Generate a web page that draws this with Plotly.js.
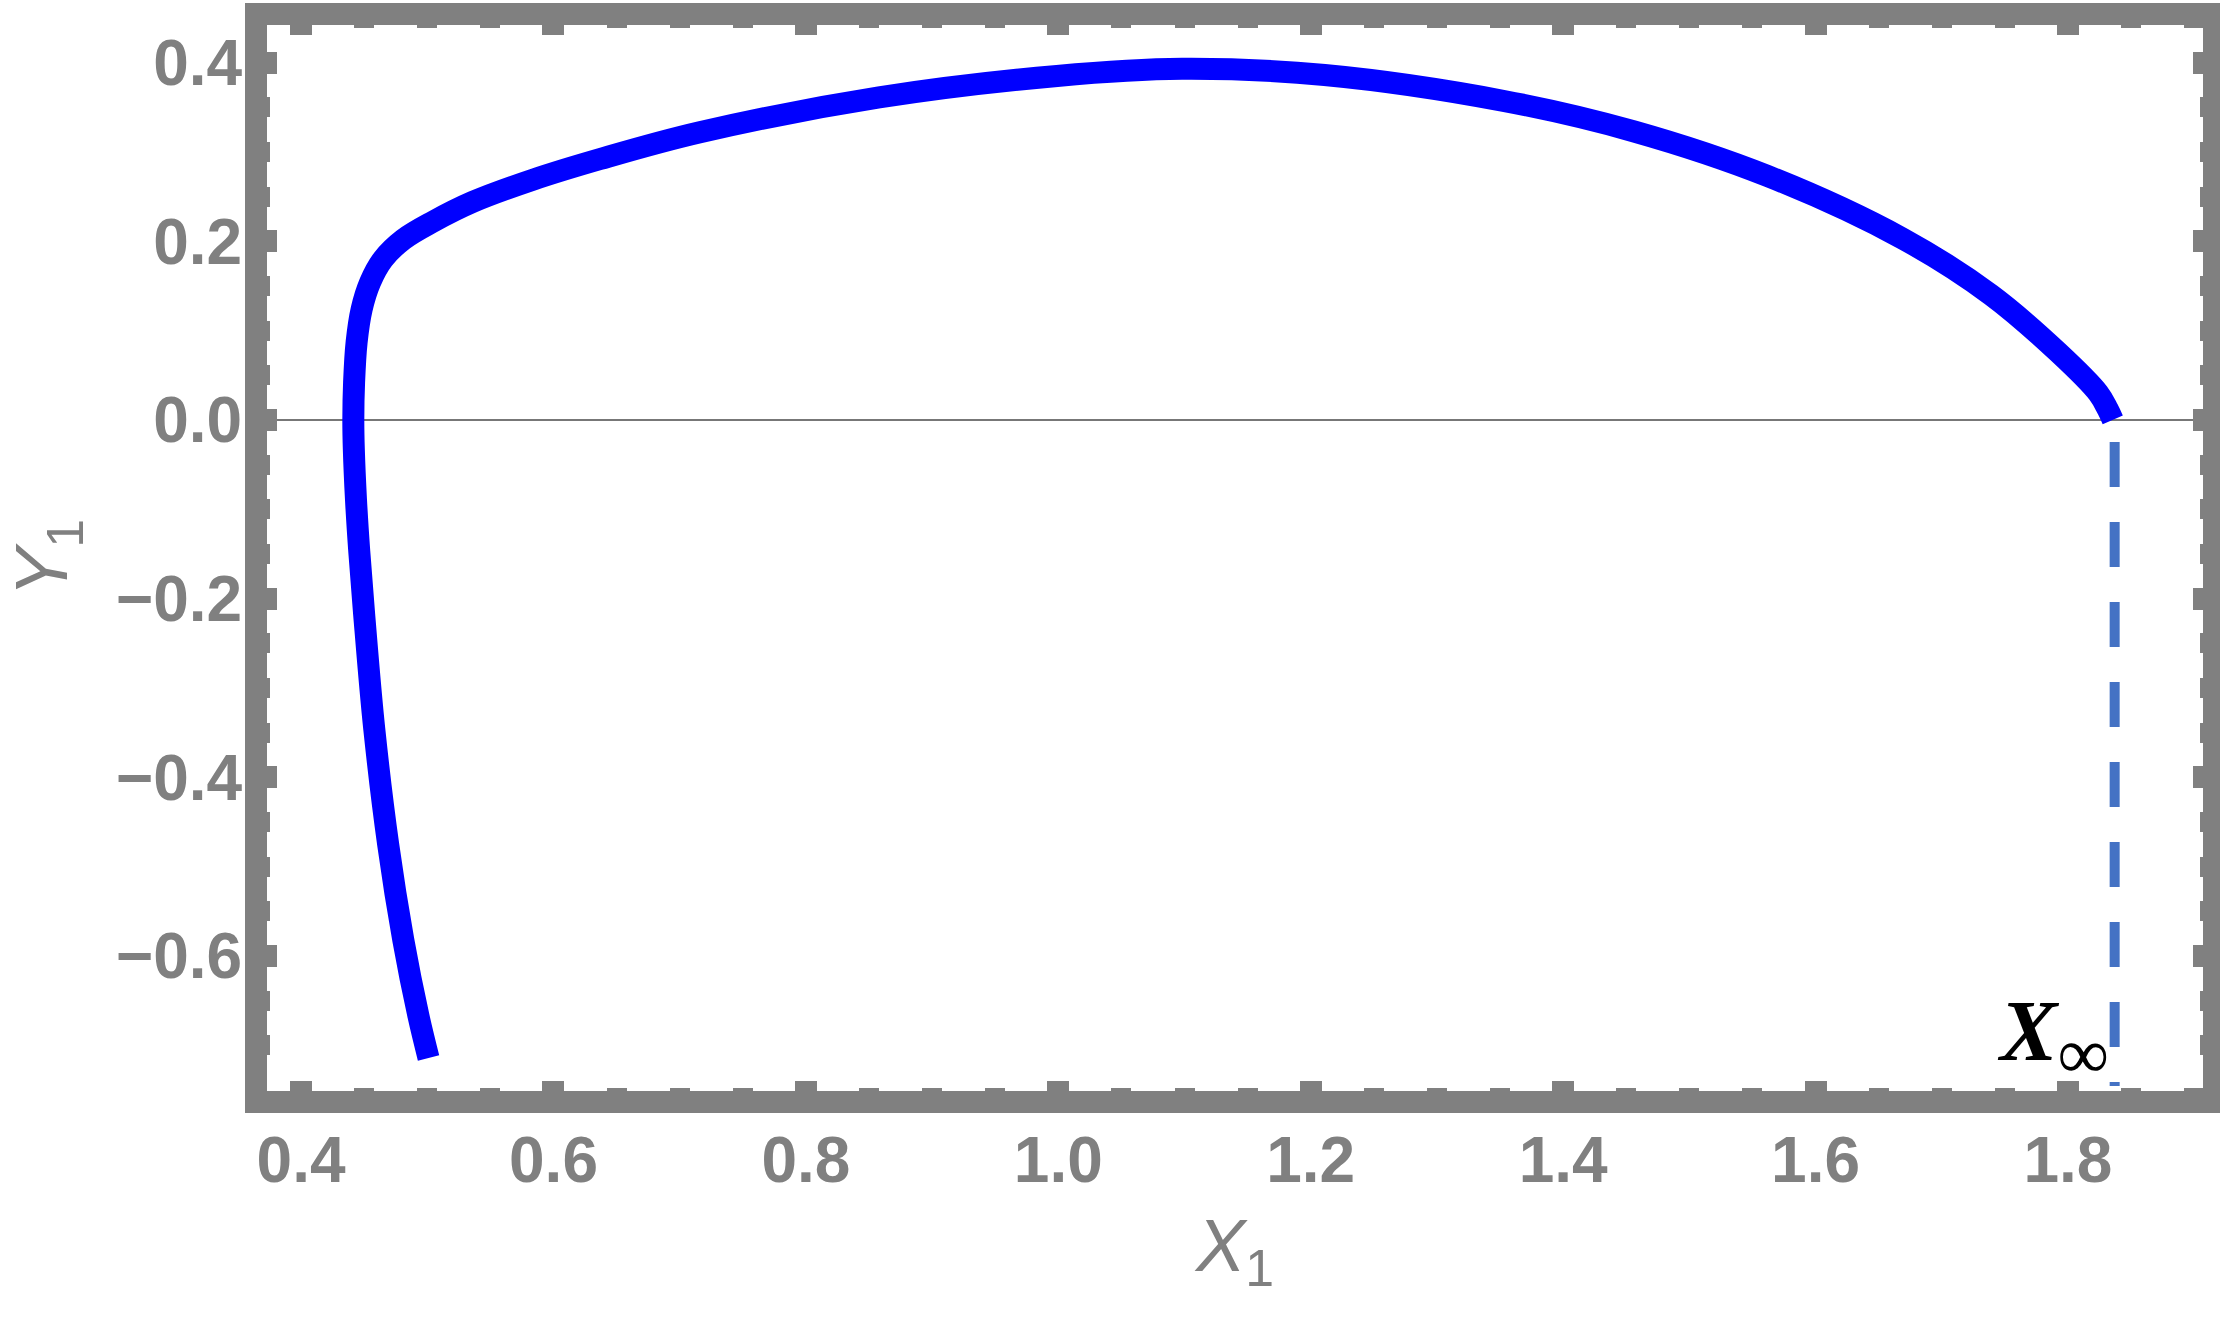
<!DOCTYPE html>
<html>
<head>
<meta charset="utf-8">
<script src="https://cdn.plot.ly/plotly-3.0.1.min.js"></script>
<style>
  html, body { margin: 0; padding: 0; background: #fff; }
  #plot { width: 2220px; height: 1328px; }
</style>
</head>
<body>
<div id="plot"></div>
<script>
// curve, from the lower end up and round to X_inf
var x1_vals = [0.501, 0.493, 0.481, 0.469, 0.458, 0.450, 0.446, 0.4435, 0.4418, 0.4414,
  0.442, 0.444, 0.448, 0.4547, 0.465, 0.481, 0.5046, 0.536, 0.584, 0.637,
  0.716, 0.858, 0.999, 1.098, 1.211, 1.353, 1.456, 1.562, 1.669, 1.739,
  1.792, 1.824, 1.8315, 1.8355]
var y1_vals = [-0.714, -0.667, -0.582, -0.475, -0.346, -0.218, -0.145, -0.089, -0.033, 0,
  0.042, 0.087, 0.124, 0.154, 0.180, 0.202, 0.222, 0.244, 0.269, 0.292,
  0.322, 0.361, 0.385, 0.393, 0.386, 0.357, 0.323, 0.273, 0.203, 0.140,
  0.076, 0.030, 0.012, 0]

// dashed drop line under X_inf
var xinf_x = [1.837, 1.837]
var xinf_y = [-0.0246, -0.7453]

var x_ticks = [0.4, 0.6, 0.8, 1.0, 1.2, 1.4, 1.6, 1.8]
var y_ticks = [-0.6, -0.4, -0.2, 0.0, 0.2, 0.4]

var gray = '#808080'
var tickFont = {family: '"Liberation Sans", Arial, sans-serif', size: 64, color: gray, weight: 'bold'}
var titleFont = {family: '"Liberation Sans", Arial, sans-serif', size: 74, color: gray}

function axis(ticks, range){
  return {
    range: range,
    tickvals: ticks,
    ticktext: ticks.map(function(v){ return v.toFixed(1).replace('-', '\u2212') }),
    ticks: 'inside',
    ticklen: 10,
    tickwidth: 22,
    tickcolor: gray,
    minor: {dtick: 0.05, tick0: 0, ticks: 'inside', ticklen: 3, tickwidth: 20, tickcolor: gray, showgrid: false},
    showline: true,
    linewidth: 22,
    linecolor: gray,
    mirror: 'ticks',
    showgrid: false,
    tickfont: tickFont
  }
}

var xaxis = axis(x_ticks, [0.373, 1.907])
xaxis.zeroline = false
xaxis.ticklabelstandoff = -8
xaxis.title = {text: '<i>X</i><sub>1</sub>', font: titleFont, standoff: 34}

var yaxis = axis(y_ticks, [-0.751, 0.442])
yaxis.zeroline = true
yaxis.zerolinecolor = '#777777'
yaxis.zerolinewidth = 2
yaxis.ticklabelstandoff = -10
yaxis.title = {text: '<i>Y</i><sub>1</sub>', font: titleFont, standoff: 40}

var data = [{
  x: x1_vals,
  y: y1_vals,
  mode: 'lines',
  type: 'scatter',
  line: {color: '#0000FF', width: 22, shape: 'spline', smoothing: 1.0},
  hoverinfo: 'skip'
}, {
  x: xinf_x,
  y: xinf_y,
  mode: 'lines',
  type: 'scatter',
  line: {color: '#4472C4', width: 10, dash: '45px,35px'},
  hoverinfo: 'skip'
}]

var layout = {
  width: 2220,
  height: 1328,
  margin: {l: 267, r: 17, t: 25, b: 237},
  paper_bgcolor: '#ffffff',
  plot_bgcolor: '#ffffff',
  showlegend: false,
  xaxis: xaxis,
  yaxis: yaxis,
  annotations: [{
    x: 1.837, y: -0.692, xref: 'x', yref: 'y',
    xanchor: 'right', yanchor: 'middle', xshift: -4,
    text: '<b><i>X</i></b><sub><span style="font-size:72px">\u221e</span></sub>',
    showarrow: false,
    font: {family: '"Liberation Serif", "Times New Roman", serif', size: 86, color: '#000000'}
  }]
}

Plotly.newPlot('plot', data, layout, {displayModeBar: false, staticPlot: true})
</script>
</body>
</html>
